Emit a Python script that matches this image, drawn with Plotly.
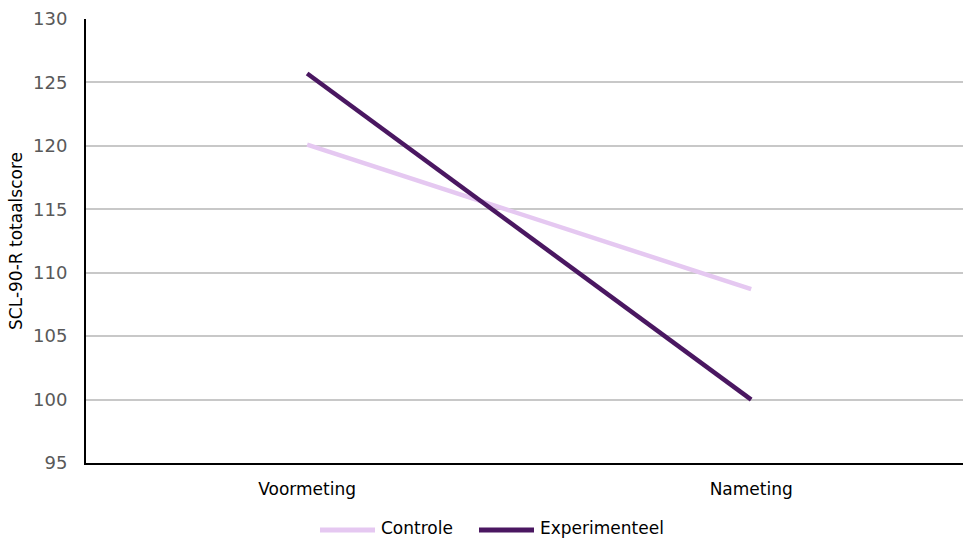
import plotly.graph_objects as go

# Measurement moments and mean SCL-90-R total scores per group
momenten = ["Voormeting", "Nameting"]
controle = [120.1, 108.7]
experimenteel = [125.7, 100.0]

y_ticks = [95, 100, 105, 110, 115, 120, 125, 130]

series = [("Controle", controle, "#E5C8F1"),
          ("Experimenteel", experimenteel, "#4A1761")]

font_family = "Verdana, DejaVu Sans, sans-serif"

W, H = 963, 540
M_L, M_R, M_T, M_B = 86, 0, 19, 77
plot_w = W - M_L - M_R
plot_h = H - M_T - M_B


def px_x(px):
    return (px - M_L) / plot_w


def px_y(py):
    return (H - M_B - py) / plot_h


fig = go.Figure()
for name, vals, color in series:
    fig.add_trace(go.Scatter(
        x=momenten, y=vals, mode="lines", name=name,
        line=dict(color=color, width=4.5),
        showlegend=False,
    ))

# Legend below the chart: a long line sample followed by the series name
legend_line_y = 530
legend_text_y = 528
legend_items = [(320, 375, 379), (479, 534, 538)]
shapes = []
annotations = []
for (name, _, color), (x0, x1, xt) in zip(series, legend_items):
    shapes.append(dict(type="line", xref="paper", yref="paper",
                       x0=px_x(x0), x1=px_x(x1),
                       y0=px_y(legend_line_y), y1=px_y(legend_line_y),
                       line=dict(color=color, width=5)))
    annotations.append(dict(text=name, xref="paper", yref="paper",
                            x=px_x(xt), y=px_y(legend_text_y),
                            xanchor="left", yanchor="middle",
                            showarrow=False,
                            font=dict(family=font_family, size=17, color="#000000")))

fig.update_layout(
    width=W, height=H,
    margin=dict(l=M_L, r=M_R, t=M_T, b=M_B),
    plot_bgcolor="white", paper_bgcolor="white",
    font=dict(family=font_family, size=17, color="#000000"),
    showlegend=False,
    shapes=shapes,
    annotations=annotations,
    xaxis=dict(
        type="category", range=[-0.498, 1.477],
        showgrid=False, showline=True, linecolor="#000000", linewidth=2,
        ticks="", ticklabelstandoff=10,
        tickfont=dict(family=font_family, size=17, color="#000000"),
        zeroline=False,
    ),
    yaxis=dict(
        range=[95, 130], tickvals=y_ticks,
        showgrid=True, gridcolor="#C8C8C8", gridwidth=2,
        showline=True, linecolor="#000000", linewidth=2,
        ticks="", ticklabelstandoff=13,
        tickfont=dict(family=font_family, size=18, color="#595959"),
        title=dict(text="SCL-90-R totaalscore", standoff=6,
                   font=dict(family=font_family, size=17, color="#000000")),
        zeroline=False,
    ),
)

fig.write_html("out.html")
